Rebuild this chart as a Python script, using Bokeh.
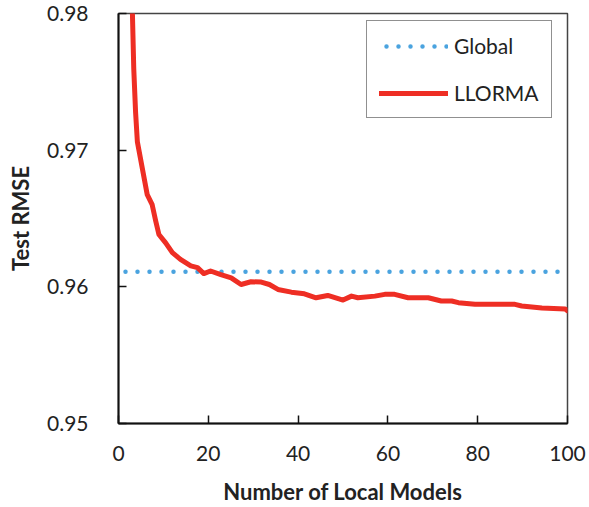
from bokeh.plotting import figure
from bokeh.models import Range1d, FixedTicker, Legend, LegendItem
from bokeh.embed import file_html
from bokeh.resources import INLINE

# ---- data ----
models = [2, 3.1, 3.4, 3.8, 4.2, 5.3, 6.4, 7.5, 8.3, 9.0, 10.5, 12.0, 13.8, 16.1, 17.6,
          19.0, 20.5, 22.8, 25.1, 27.3, 29.5, 31.8, 33.6, 35.5, 38.5, 41.4, 44.0, 46.6,
          50.0, 51.9, 53.3, 57.1, 59.3, 61.5, 64.5, 69.0, 71.9, 74.2, 75.7, 79.4, 88.3,
          89.8, 94.3, 99.5, 100]
llorma_rmse = [0.9915, 0.9800, 0.97595, 0.9728, 0.97062, 0.96868, 0.96674, 0.96601,
               0.96480, 0.96383, 0.96322, 0.96250, 0.96201, 0.96153, 0.96140, 0.96097,
               0.96116, 0.96089, 0.96066, 0.96017, 0.96037, 0.96035, 0.96017, 0.95981,
               0.95961, 0.95949, 0.95920, 0.95937, 0.95903, 0.95932, 0.95920, 0.95932,
               0.95945, 0.95945, 0.95920, 0.95920, 0.95896, 0.95896, 0.95884, 0.95872,
               0.95872, 0.95860, 0.95845, 0.95838, 0.95825]
global_x = [0, 100]
global_rmse = [0.9611, 0.9611]

x_ticks = [0, 20, 40, 60, 80, 100]
y_ticks = [0.95, 0.96, 0.97, 0.98]
y_tick_labels = {0.95: "0.95", 0.96: "0.96", 0.97: "0.97", 0.98: "0.98"}

FONT = "Lato"
TXT = "#222222"

p = figure(width=589, height=507, output_backend="svg", toolbar_location=None,
           x_range=Range1d(0, 100), y_range=Range1d(0.95, 0.98),
           min_border_left=118, min_border_right=22, min_border_top=13, min_border_bottom=83)
p.xgrid.visible = False
p.ygrid.visible = False
p.background_fill_color = "white"
p.border_fill_color = "white"
p.outline_line_color = "#444444"
p.outline_line_width = 1.5

r_global = p.line(global_x, global_rmse, line_color="#4AA3DF", line_width=4.5,
                  line_dash="0 12", line_dash_offset=5, line_cap="round")
r_llorma = p.line(models, llorma_rmse, line_color="#EE2E24", line_width=5,
                  line_cap="round", line_join="round")

for ax in (p.xaxis[0], p.yaxis[0]):
    ax.axis_line_color = "#111111"
    ax.axis_line_width = 2
    ax.major_tick_line_color = "#111111"
    ax.major_tick_line_width = 1.5
    ax.major_tick_in = 8
    ax.major_tick_out = 0
    ax.minor_tick_line_color = None
    ax.major_label_text_font = FONT
    ax.major_label_text_font_size = "21px"
    ax.major_label_text_color = TXT
    ax.axis_label_text_font = FONT
    ax.axis_label_text_font_size = "22px"
    ax.axis_label_text_font_style = "bold"
    ax.axis_label_text_color = TXT

p.xaxis.ticker = FixedTicker(ticks=x_ticks)
p.yaxis.ticker = FixedTicker(ticks=y_ticks)
p.yaxis.major_label_overrides = y_tick_labels
p.xaxis.axis_label = "Number of Local Models"
p.yaxis.axis_label = "Test RMSE"
p.xaxis.major_label_standoff = 22
p.xaxis.axis_label_standoff = 14
p.yaxis.major_label_standoff = 30
p.yaxis.axis_label_standoff = 10

legend = Legend(items=[LegendItem(label="Global", renderers=[r_global]),
                       LegendItem(label="LLORMA", renderers=[r_llorma])],
                location=(248, 305), orientation="vertical")
legend.border_line_color = "#222222"
legend.border_line_width = 1.5
legend.background_fill_color = "white"
legend.background_fill_alpha = 1
legend.padding = 12
legend.margin = 0
legend.spacing = 22
legend.glyph_width = 69
legend.glyph_height = 24
legend.label_height = 24
legend.label_standoff = 6
legend.label_text_font = FONT
legend.label_text_font_size = "21px"
legend.label_text_color = TXT
p.add_layout(legend)

open("out.html", "w").write(file_html(p, INLINE))
